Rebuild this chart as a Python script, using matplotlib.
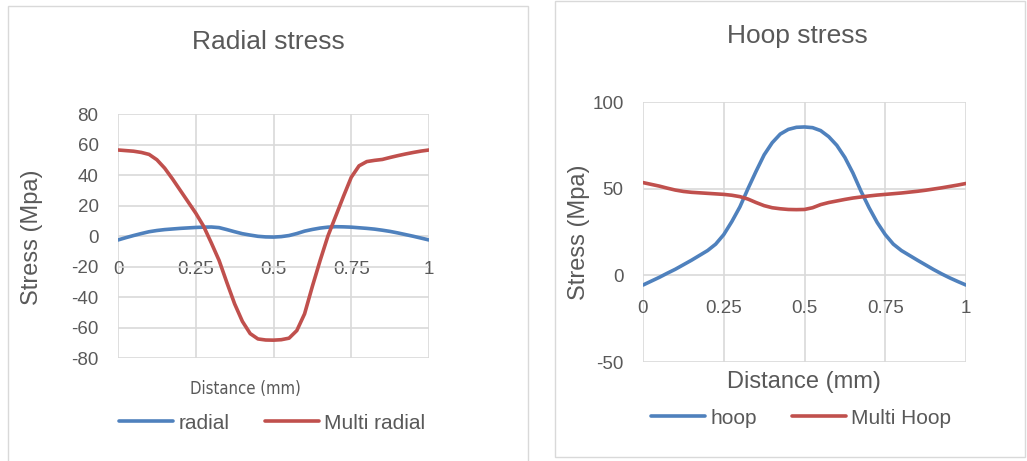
import matplotlib
matplotlib.use("Agg")
import matplotlib.pyplot as plt
from matplotlib.patches import Rectangle

# distance (mm) and stress (MPa)
dist = [0, 0.025, 0.05, 0.075, 0.1, 0.125, 0.15, 0.175, 0.2, 0.225,
        0.25, 0.275, 0.3, 0.325, 0.35, 0.375, 0.4, 0.425, 0.45, 0.475,
        0.5, 0.525, 0.55, 0.575, 0.6, 0.625, 0.65, 0.675, 0.7, 0.725,
        0.75, 0.775, 0.8, 0.825, 0.85, 0.875, 0.9, 0.925, 0.95, 0.975, 1.0]

radial = [-2.6, -1.1, 0.3, 1.6, 2.8, 3.6, 4.2, 4.6, 5.0, 5.3,
          5.6, 5.8, 5.9, 5.5, 4.2, 2.8, 1.5, 0.6, -0.2, -0.6,
          -0.7, -0.4, 0.3, 1.6, 3.2, 4.3, 5.2, 5.8, 6.1, 6.0,
          5.8, 5.4, 5.0, 4.5, 3.8, 3.0, 2.0, 0.9, -0.2, -1.4, -2.6]
multi_radial = [56.4, 56, 55.6, 54.8, 53.5, 50, 44.5, 37.5, 30, 22.5,
                15, 6.5, -4.5, -16, -30.5, -44.5, -56, -64, -67.5, -68.2,
                -68.3, -68, -67, -62, -51, -33, -16, 0, 13, 26,
                38.5, 46, 48.8, 49.6, 50.2, 51.5, 52.7, 53.8, 54.8, 55.7, 56.4]

hoop = [-5.6, -3.4, -1.2, 1.2, 3.5, 6.1, 8.7, 11.5, 14.3, 18,
        23.5, 31, 39.5, 50, 60, 69.5, 76.5, 81.5, 84.2, 85.4,
        85.6, 85.2, 83.5, 80, 75, 68, 59, 48.5, 39, 30.5,
        23.5, 18, 14.3, 11.5, 8.7, 6.0, 3.3, 0.8, -1.5, -3.6, -5.6]
multi_hoop = [53.5, 52.5, 51.5, 50.3, 49.2, 48.4, 47.9, 47.6, 47.3, 47,
              46.7, 46.2, 45.4, 44, 42, 40.2, 39, 38.4, 38, 37.9,
              38, 39, 40.8, 42, 42.9, 43.8, 44.6, 45.2, 45.8, 46.3,
              46.7, 47.1, 47.5, 48, 48.5, 49.1, 49.8, 50.5, 51.3, 52.1, 53]

x_ticks = [0, 0.25, 0.5, 0.75, 1]
x_tick_labels = ["0", "0.25", "0.5", "0.75", "1"]

TEXT = "#595959"
GRID = "#d9d9d9"
BLUE = "#4F81BD"
RED = "#C0504D"

plt.rcParams["font.family"] = ["Liberation Sans", "DejaVu Sans"]
plt.rcParams["axes.unicode_minus"] = False

W, H = 1027, 461
fig = plt.figure(figsize=(W / 100, H / 100), dpi=100)


def fx(px):
    return px / W


def fy(py):
    return 1 - py / H


# chart borders
fig.patches.append(Rectangle((fx(8), fy(470)), fx(520), fy(6) - fy(470),
                             transform=fig.transFigure, fill=False,
                             edgecolor=GRID, lw=1))
fig.patches.append(Rectangle((fx(555), fy(457)), fx(470), fy(1) - fy(457),
                             transform=fig.transFigure, fill=False,
                             edgecolor=GRID, lw=1))


def style(ax, ylim, yticks):
    ax.set_xlim(0, 1)
    ax.set_ylim(*ylim)
    ax.set_yticks(yticks)
    ax.set_xticks(x_ticks)
    ax.set_xticklabels(x_tick_labels)
    for s in ["top", "right", "left"]:
        ax.spines[s].set_visible(False)
    ax.spines["bottom"].set_position(("data", 0))
    ax.spines["bottom"].set_visible(False)
    ax.grid(True, color=GRID, lw=1.2)
    ax.set_axisbelow(True)
    ax.tick_params(axis="both", length=0, labelsize=13.5, colors=TEXT)
    ax.tick_params(axis="x", pad=18)
    ax.tick_params(axis="y", pad=14)


# Radial stress
ax1 = fig.add_axes([fx(118), fy(358), fx(311), fy(114) - fy(358)])
style(ax1, (-80, 80), list(range(-80, 81, 20)))
l1, = ax1.plot(dist, radial, color=BLUE, lw=2.6, solid_capstyle="round")
l2, = ax1.plot(dist, multi_radial, color=RED, lw=2.6, solid_capstyle="round")
fig.text(fx(268), fy(42), "Radial stress", ha="center", va="center",
         fontsize=19, color=TEXT)
fig.text(fx(32), fy(237), "Stress (Mpa)", rotation=90, ha="center",
         va="center", fontsize=17, color=TEXT)
fig.text(fx(245), fy(389), "Distance (mm)", ha="center", va="center",
         fontsize=12, color=TEXT, family="DejaVu Sans", stretch="condensed")
fig.legend([l1, l2], ["radial", "Multi radial"], loc="center",
           bbox_to_anchor=(fx(272), fy(423)), ncol=2, frameon=False,
           fontsize=15, labelcolor=TEXT, handlelength=2.6,
           handletextpad=0.25, columnspacing=1.7)

# Hoop stress
ax2 = fig.add_axes([fx(643), fy(362), fx(323), fy(102) - fy(362)])
style(ax2, (-50, 100), [-50, 0, 50, 100])
l3, = ax2.plot(dist, hoop, color=BLUE, lw=2.6, solid_capstyle="round")
l4, = ax2.plot(dist, multi_hoop, color=RED, lw=2.6, solid_capstyle="round")
fig.text(fx(797), fy(36), "Hoop stress", ha="center", va="center",
         fontsize=19, color=TEXT)
fig.text(fx(579), fy(232), "Stress (Mpa)", rotation=90, ha="center",
         va="center", fontsize=17, color=TEXT)
fig.text(fx(804), fy(382), "Distance (mm)", ha="center", va="center",
         fontsize=17, color=TEXT)
fig.legend([l3, l4], ["hoop", "Multi Hoop"], loc="center",
           bbox_to_anchor=(fx(801), fy(418)), ncol=2, frameon=False,
           fontsize=15, labelcolor=TEXT, handlelength=2.6,
           handletextpad=0.25, columnspacing=1.7)

fig.savefig("out.png", dpi=100)
